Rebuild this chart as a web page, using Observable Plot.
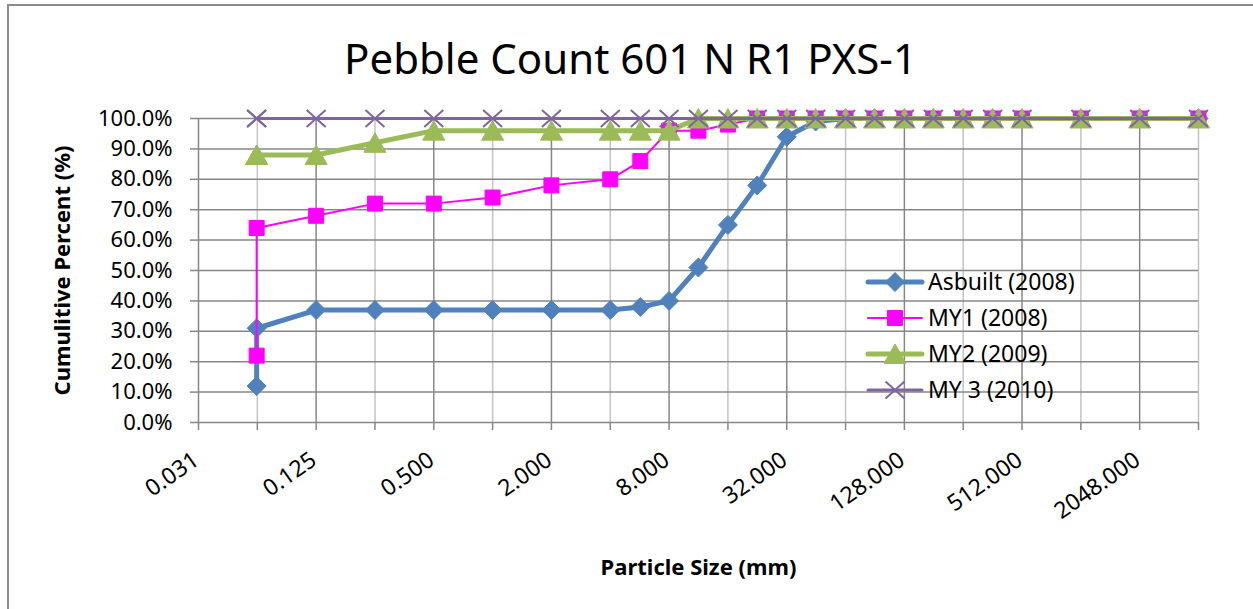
<!DOCTYPE html>
<html><head><meta charset="utf-8">
<script src="https://cdn.jsdelivr.net/npm/d3@7"></script>
<script src="https://cdn.jsdelivr.net/npm/@observablehq/plot@0.6"></script>
<style>
body{margin:0;background:#fff;font-family:"Noto Sans",sans-serif;}
#wrap{position:relative;width:1253px;height:609px;overflow:hidden;background:#fff;}
#border{position:absolute;left:7px;top:4px;width:1400px;height:800px;border:2px solid #8c8c8c;}
#chart{position:absolute;left:0;top:0;}
#legend{position:absolute;left:862px;top:264px;}
</style></head><body>
<div id="wrap"><div id="border"></div><div id="chart"></div><div id="legend"></div></div>
<script>
// ---- data ----
const title = "Pebble Count 601 N R1 PXS-1";
const xTitle = "Particle Size (mm)";
const yTitle = "Cumulitive Percent (%)";
const sizes = [0.062, 0.062, 0.125, 0.25, 0.5, 1, 2, 4, 5.7, 8, 11.3, 16, 22.6, 32, 45, 64, 90, 128, 180, 256, 362, 512, 1024, 2048, 4096];
const seriesNames = ["Asbuilt (2008)", "MY1 (2008)", "MY2 (2009)", "MY 3 (2010)"];
const asbuilt = [12, 31, 37, 37, 37, 37, 37, 37, 38, 40, 51, 65, 78, 94, 99, 100, 100, 100, 100, 100, 100, 100, 100, 100, 100];
const my1 = [22, 64, 68, 72, 72, 74, 78, 80, 86, 96, 96, 98, 100, 100, 100, 100, 100, 100, 100, 100, 100, 100, 100, 100, 100];
const my2 = [88, 88, 88, 92, 96, 96, 96, 96, 96, 96, 100, 100, 100, 100, 100, 100, 100, 100, 100, 100, 100, 100, 100, 100, 100];
const my3 = [100, 100, 100, 100, 100, 100, 100, 100, 100, 100, 100, 100, 100, 100, 100, 100, 100, 100, 100, 100, 100, 100, 100, 100, 100];
const xMajorTicks = [0.03125, 0.125, 0.5, 2, 8, 32, 128, 512, 2048];
const xMinorTicks = [0.0625, 0.25, 1, 4, 16, 64, 256, 1024, 4096];
const xTickLabels = ["0.031", "0.125", "0.500", "2.000", "8.000", "32.000", "128.000", "512.000", "2048.000"];
const yTicks = [0, 10, 20, 30, 40, 50, 60, 70, 80, 90, 100];

// ---- symbols ----
const rad = s => Math.sqrt(s / Math.PI);
const diamond = {draw(c, s){const r = rad(s); c.moveTo(0,-r); c.lineTo(r,0); c.lineTo(0,r); c.lineTo(-r,0); c.closePath();}};
const square = {draw(c, s){const r = rad(s); c.moveTo(-r,-r); c.lineTo(r,-r); c.lineTo(r,r); c.lineTo(-r,r); c.closePath();}};
const triangle = {draw(c, s){const r = rad(s); c.moveTo(0,-r); c.lineTo(1.1*r,0.95*r); c.lineTo(-1.1*r,0.95*r); c.closePath();}};
const cross = {draw(c, s){const r = rad(s); c.moveTo(-r,-0.9*r); c.lineTo(r,0.9*r); c.moveTo(-r,0.9*r); c.lineTo(r,-0.9*r);}};

const styles = [
  {values: asbuilt, color: "#4F81BD", lw: 5, symbol: diamond, r: 9.5, filled: true, sw: 1},
  {values: my1, color: "#FF00FF", lw: 2, symbol: square, r: 7.5, filled: true, sw: 1},
  {values: my2, color: "#9BBB59", lw: 5, symbol: triangle, r: 10, filled: true, sw: 1},
  {values: my3, color: "#8064A2", lw: 3, symbol: cross, r: 9.5, filled: false, sw: 2}
];

const seriesMarks = [];
styles.forEach((st, k) => {
  const rows = sizes.map((s, i) => ({size: s, pct: st.values[i], series: seriesNames[k]}));
  seriesMarks.push(Plot.line(rows, {x: "size", y: "pct", stroke: st.color, strokeWidth: st.lw, strokeLinejoin: "round", strokeLinecap: "round"}));
  seriesMarks.push(Plot.dot(rows, {x: "size", y: "pct", symbol: st.symbol, r: st.r,
    fill: st.filled ? st.color : "none", stroke: st.color, strokeWidth: st.sw}));
});

const tickRows = xMajorTicks.map((v, i) => ({v, label: xTickLabels[i]}));
const FF = "Noto Sans";

const chart = Plot.plot({
  width: 1253, height: 609,
  marginLeft: 198, marginRight: 55, marginTop: 118, marginBottom: 187,
  style: {fontFamily: FF, background: "transparent", color: "#000", overflow: "visible"},
  x: {type: "log", base: 2, domain: [1/32, 4096], axis: null, label: null},
  y: {domain: [0, 100], axis: null, label: null},
  marks: [
    Plot.ruleX(xMinorTicks, {stroke: "#c4c4c4", strokeWidth: 1.5}),
    Plot.ruleY(yTicks, {stroke: "#878787", strokeWidth: 1.5}),
    Plot.ruleX(xMajorTicks, {stroke: "#878787", strokeWidth: 1.5}),
    Plot.axisX({ticks: xMajorTicks.concat(xMinorTicks), tickSize: 8, tickFormat: () => "", label: null, stroke: "#878787", strokeWidth: 1.5}),
    Plot.axisY({ticks: yTicks, tickSize: 8, tickPadding: 18, label: null, tickFormat: d => d.toFixed(1) + "%", stroke: "#878787", strokeWidth: 1.5, fontSize: 22, fill: "#000"}),
    Plot.text(tickRows, {x: "v", text: "label", frameAnchor: "bottom", rotate: -35, textAnchor: "end", dx: 2, dy: 41, fontSize: 23, fill: "#000"}),
    ...seriesMarks,
    Plot.text([title], {frameAnchor: "top", lineAnchor: "middle", dx: -68, dy: -58, fontSize: 42, fill: "#000"}),
    Plot.text([xTitle], {frameAnchor: "bottom", lineAnchor: "middle", dy: 145, fontSize: 22, fontWeight: "bold", fill: "#000"}),
    Plot.text([yTitle], {frameAnchor: "left", textAnchor: "middle", lineAnchor: "middle", dx: -136, rotate: -90, fontSize: 22, fontWeight: "bold", fill: "#000"})
  ]
});
document.getElementById("chart").appendChild(chart);

// ---- legend ----
const lg = d3.select("#legend").append("svg").attr("width", 240).attr("height", 150).style("overflow", "visible");
styles.forEach((st, k) => {
  const g = lg.append("g").attr("transform", `translate(0,${18 + k * 36})`);
  g.append("line").attr("x1", 6).attr("x2", 60).attr("stroke", st.color).attr("stroke-width", st.lw).attr("stroke-linecap", "round");
  const p = d3.path(); st.symbol.draw(p, Math.PI * st.r * st.r);
  g.append("path").attr("transform", "translate(33,0)").attr("d", p.toString())
    .attr("fill", st.filled ? st.color : "none").attr("stroke", st.color).attr("stroke-width", st.sw);
  g.append("text").attr("x", 66).attr("dy", "0.35em").attr("font-family", FF).attr("font-size", 23).attr("fill", "#000").text(seriesNames[k]);
});
</script>
</body></html>
